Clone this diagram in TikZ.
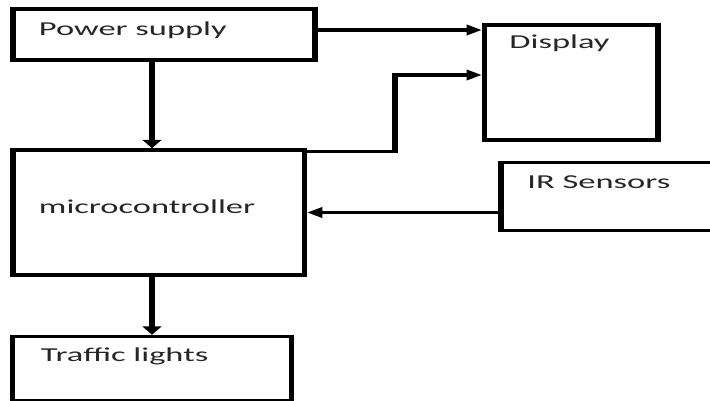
\documentclass[tikz,border=0pt]{standalone}
\usepackage{fontspec}
\setmainfont{Carlito}
\usetikzlibrary{arrows.meta,fit}

\begin{document}
\begin{tikzpicture}[x=0.5714pt, y=-1pt, line width=3.4pt,
  blk/.style={draw,rectangle,inner sep=0pt},
  txt/.style={anchor=base west,inner sep=0pt,text=black!85,font=\fontsize{19.7}{24}\selectfont},
  arr/.style={-{Triangle[length=8.5pt,width=10.5pt]}}]
\clip (0pt,0pt) rectangle (710pt,-400pt);
\begin{scope}[transform canvas={xscale=1.75}]
% blocks
\node[blk,fit={(13,9) (315,60)}] (pwr) {};
\node[blk,fit={(484.5,25) (658,140)}] (disp) {};
\node[blk,fit={(13,150) (304.5,275)}] (mc) {};
\node[blk,fit={(501,162.5) (725,230.5)}] (ir) {};
\node[blk,fit={(12.5,336.5) (291.5,401)}] (tl) {};
% texts
\node[txt] (pwr-t) at (36,35) {Power supply};
\node[txt] (disp-t) at (506.5,48) {Display};
\node[txt] (mc-t) at (36,213) {microcontroller};
\node[txt] (ir-t) at (524.5,188) {IR Sensors};
\node[txt] (tl-t) at (38,361) {Traffic lights};
% links
\coordinate (bend) at (395,75);
\draw[arr] (pwr.south -| tl.north) -- (mc.north -| tl.north);
\draw[arr] ([yshift=4.5pt]pwr.east) -- ([yshift=4.5pt]pwr.east -| disp.west);
\draw[arr] ([yshift=-3pt]mc.north east) -| (bend) -- (bend -| disp.west);
\draw[arr] (ir.west |- mc.east) -- (mc.east);
\draw[arr] (mc.south -| tl.north) -- (tl.north);
\end{scope}
\end{tikzpicture}
\end{document}
